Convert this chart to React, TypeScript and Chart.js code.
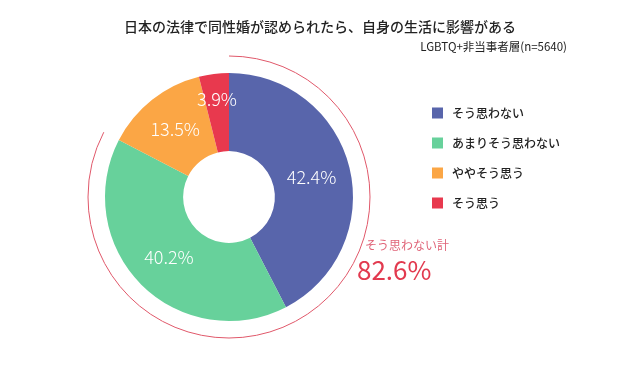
import React, { useEffect, useRef } from "react";
import { Chart, registerables } from "chart.js";

Chart.register(...registerables);

const titleText = "日本の法律で同性婚が認められたら、自身の生活に影響がある";
const subtitleText = "LGBTQ+非当事者層(n=5640)";
const categories = ["そう思わない", "あまりそう思わない", "ややそう思う", "そう思う"];
const values = [42.4, 40.2, 13.5, 3.9];
const colors = ["#5865ab", "#67d19b", "#fba645", "#e8394e"];
// the two "not" answers summed for the bracket arc
const notTotalLabel = "そう思わない計";
const notTotalIndices = [0, 1];

const FONT = "'Noto Sans CJK JP', 'Noto Sans', sans-serif";

const decorPlugin = {
  id: "decor",
  afterDatasetsDraw(chart: any) {
    const ctx = chart.ctx;
    const meta = chart.getDatasetMeta(0);
    const arc0 = meta.data[0];
    const cx = arc0.x;
    const cy = arc0.y;
    const outer = arc0.outerRadius;
    const inner = arc0.innerRadius;
    const total = values.reduce((a, b) => a + b, 0);

    // slice value labels
    ctx.save();
    ctx.fillStyle = "#ffffff";
    ctx.font = `300 18px ${FONT}`;
    ctx.textAlign = "center";
    ctx.textBaseline = "middle";
    meta.data.forEach((el: any, i: number) => {
      const mid = (el.startAngle + el.endAngle) / 2;
      const r = (inner + outer) / 2 + Math.max(0, 15 - values[i]) * 1.2;
      ctx.fillText(values[i].toFixed(1) + "%", cx + Math.cos(mid) * r, cy + Math.sin(mid) * r);
    });
    ctx.restore();

    // bracket arc for the summed share
    const notSum = notTotalIndices.reduce((s, i) => s + values[i], 0);
    const start = -Math.PI / 2;
    const end = start + (notSum / total) * Math.PI * 2;
    ctx.save();
    ctx.strokeStyle = "#e0586a";
    ctx.lineWidth = 1;
    ctx.beginPath();
    ctx.arc(cx, cy, outer + 17, start, end);
    ctx.stroke();
    ctx.restore();

    // summed share label
    ctx.save();
    ctx.textAlign = "left";
    ctx.textBaseline = "middle";
    ctx.fillStyle = "#e0667a";
    ctx.font = `400 12px ${FONT}`;
    ctx.fillText(notTotalLabel, 365, 245);
    ctx.fillStyle = "#e23a4f";
    ctx.font = `400 26px ${FONT}`;
    ctx.fillText(notSum.toFixed(1) + "%", 357, 270);
    ctx.restore();

    // title and subtitle
    ctx.save();
    ctx.fillStyle = "#222222";
    ctx.textBaseline = "middle";
    ctx.textAlign = "center";
    ctx.font = `500 14px ${FONT}`;
    ctx.fillText(titleText, 320, 27);
    ctx.textAlign = "right";
    ctx.font = `400 11.5px ${FONT}`;
    ctx.fillText(subtitleText, 567, 47);
    ctx.restore();

    // legend
    ctx.save();
    ctx.textAlign = "left";
    ctx.textBaseline = "middle";
    ctx.font = `500 12px ${FONT}`;
    categories.forEach((c, i) => {
      const y = 113 + i * 30;
      ctx.fillStyle = colors[i];
      ctx.fillRect(432, y - 5.5, 11, 11);
      ctx.fillStyle = "#222222";
      ctx.fillText(c, 452, y);
    });
    ctx.restore();
  },
};

export default function App() {
  const ref = useRef<HTMLCanvasElement>(null);

  useEffect(() => {
    document.body.style.margin = "0";
    const chart = new Chart(ref.current!, {
      type: "doughnut",
      data: {
        labels: categories,
        datasets: [
          {
            data: values,
            backgroundColor: colors,
            borderWidth: 0,
          },
        ],
      },
      options: {
        responsive: false,
        animation: false,
        cutout: "37%",
        rotation: 0,
        layout: { padding: { left: 105, right: 287, top: 73, bottom: 49 } },
        plugins: {
          legend: { display: false },
          title: { display: false },
          tooltip: { enabled: false },
        },
      },
      plugins: [decorPlugin],
    });
    return () => chart.destroy();
  }, []);

  return (
    <div style={{ width: 640, height: 370, background: "#ffffff" }}>
      <canvas ref={ref} width={640} height={370} />
    </div>
  );
}
